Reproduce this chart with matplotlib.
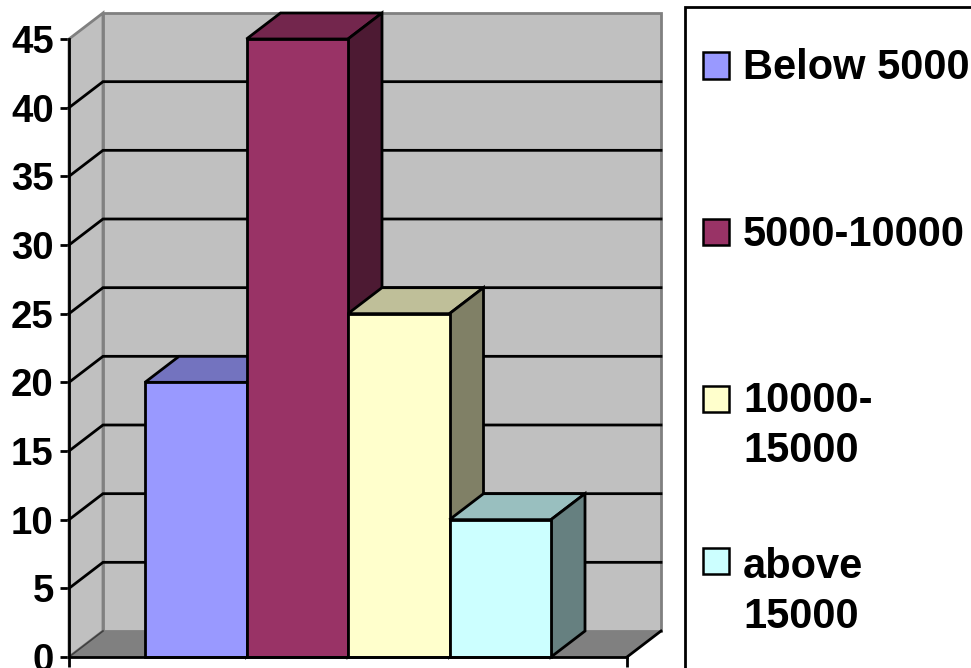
import matplotlib
matplotlib.use("Agg")
import matplotlib.pyplot as plt
from matplotlib.patches import Polygon, Rectangle
from matplotlib.lines import Line2D
from matplotlib.colors import to_rgb

categories = ["Below 5000", "5000-10000", "10000-\n15000", "above\n15000"]
values = [20, 45, 25, 10]
colors = ["#9999FF", "#993366", "#FFFFCC", "#CCFFFF"]
y_ticks = [0, 5, 10, 15, 20, 25, 30, 35, 40, 45]

W, H = 971, 668
FONT = "Liberation Sans"
LW = 2.0

fig = plt.figure(figsize=(W / 100, H / 100), dpi=100, facecolor="white")
ax = fig.add_axes([69 / W, (H - 657) / H, (627 - 69) / W, (657 - 39) / H])
ax.patch.set_alpha(0)

# one category is one unit wide; the oblique depth is given in data units
unit_x = 101.5
unit_y = (657 - 39) / 45
dx = 34 / unit_x
dy = 26 / unit_y
x0, x1 = -76 / unit_x, 482 / unit_x
ax.set_xlim(x0, x1)
ax.set_ylim(0, 45)


def poly(pts, face, edge="black", lw=LW, z=2):
    ax.add_patch(Polygon(pts, closed=True, facecolor=face, edgecolor=edge,
                         linewidth=lw, clip_on=False, zorder=z, joinstyle="miter"))


def shade(c, k):
    return tuple(v * k for v in to_rgb(c))


# walls and floor
top = y_ticks[-1]
poly([(x0, 0), (x0 + dx, dy), (x0 + dx, top + dy), (x0, top)], "#C0C0C0", "#808080")
poly([(x0 + dx, dy), (x1 + dx, dy), (x1 + dx, top + dy), (x0 + dx, top + dy)], "#C0C0C0", "#808080")
poly([(x0, 0), (x1, 0), (x1 + dx, dy), (x0 + dx, dy)], "#808080", "none", 0)

# gridlines run along the side wall and the back wall
for v in y_ticks[1:-1]:
    ax.plot([x0, x0 + dx, x1 + dx], [v, v + dy, v + dy], color="black",
            lw=LW, clip_on=False, zorder=2.5, solid_joinstyle="miter")

# floor edges
ax.plot([x0, x0 + dx], [0, dy], color="#404040", lw=1.2, clip_on=False, zorder=2.6)
ax.plot([x1, x1 + dx], [0, dy], color="black", lw=LW, clip_on=False, zorder=2.6)

# bars, left to right so that each front face covers the previous side face
for i, (v, c) in enumerate(zip(values, colors)):
    z = 3 + i
    poly([(i, v), (i + 1, v), (i + 1 + dx, v + dy), (i + dx, v + dy)], shade(c, 0.75), z=z)
    poly([(i + 1, 0), (i + 1 + dx, dy), (i + 1 + dx, v + dy), (i + 1, v)], shade(c, 0.5), z=z)
    poly([(i, 0), (i + 1, 0), (i + 1, v), (i, v)], c, z=z)

# axes
for s in ("top", "right"):
    ax.spines[s].set_visible(False)
for s in ("left", "bottom"):
    ax.spines[s].set_linewidth(LW)
    ax.spines[s].set_color("black")
    ax.spines[s].set_zorder(8)
ax.set_xticks([x0, x1])
ax.set_xticklabels([])
ax.tick_params(axis="x", length=7, width=LW, color="black")
ax.set_yticks(y_ticks)
ax.set_yticklabels([str(t) for t in y_ticks], fontfamily=FONT, fontweight="bold",
                   fontsize=27.6, color="black")
ax.tick_params(axis="y", length=6.5, width=LW, pad=4.5, color="black")


def fx(px):
    return px / W


def fy(py):
    return (H - py) / H


# legend frame, open towards the right and bottom edges
fig.add_artist(Line2D([fx(685), fx(685), fx(971)], [fy(668), fy(6.5), fy(6.5)],
                      color="black", lw=LW, solid_joinstyle="miter"))

swatch_y = [65.5, 232, 399, 561]
text_y = [68, 235, 426, 592]
for label, c, sy, ty in zip(categories, colors, swatch_y, text_y):
    fig.add_artist(Rectangle((fx(703), fy(sy + 13)), 26 / W, 26 / H, facecolor=c,
                             edgecolor="black", linewidth=1.8,
                             transform=fig.transFigure))
    fig.text(fx(743), fy(ty), label, fontfamily=FONT, fontweight="bold", fontsize=30,
             color="black", ha="left", va="center", linespacing=1.32)

fig.savefig("out.png", dpi=100, facecolor="white")
